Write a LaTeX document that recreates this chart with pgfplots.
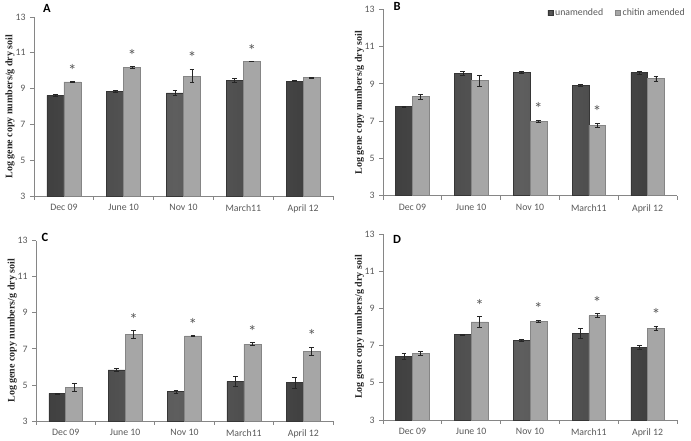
\documentclass[border=0pt]{standalone}
\usepackage{pgfplots}
\pgfplotsset{compat=1.18}
\usepackage{pgfplotstable}
\usepackage{fontspec}
\setmainfont{Carlito}
\newfontfamily\serfont{Liberation Serif}

\definecolor{axgray}{HTML}{868686}
\definecolor{txtgray}{HTML}{595959}
\definecolor{darkedge}{HTML}{404040}
\definecolor{darkmid}{HTML}{5E5E5E}
\definecolor{lightfill}{HTML}{A6A6A6}
\definecolor{lightline}{HTML}{858585}

% x  dark  derr  light  lerr
\pgfplotstableread{
x d de l le
0 8.62 0.07 9.38 0.03
1 8.86 0.07 10.19 0.05
2 8.76 0.14 9.70 0.37
3 9.48 0.12 10.52 0.02
4 9.41 0.03 9.61 0.02
}\dataA
\pgfplotstableread{
x d de l le
0 7.78 0.03 8.31 0.12
1 9.55 0.10 9.17 0.30
2 9.60 0.06 6.99 0.05
3 8.92 0.07 6.79 0.10
4 9.60 0.08 9.28 0.13
}\dataB
\pgfplotstableread{
x d de l le
0 4.53 0.03 4.87 0.24
1 5.84 0.09 7.80 0.22
2 4.63 0.08 7.72 0.03
3 5.20 0.30 7.27 0.08
4 5.14 0.30 6.88 0.22
}\dataC
\pgfplotstableread{
x d de l le
0 6.41 0.15 6.58 0.10
1 7.60 0.02 8.28 0.28
2 7.30 0.05 8.31 0.05
3 7.66 0.25 8.61 0.10
4 6.90 0.10 7.92 0.12
}\dataD
% asterisks (x, y)
\pgfplotstableread{
x y
0.1425 10.0
1.1425 10.83
2.1425 10.72
3.1425 11.13
}\astA
\pgfplotstableread{
x y
2.1425 7.68
3.1425 7.52
}\astB
\pgfplotstableread{
x y
1.1425 8.62
2.1425 8.37
3.1425 7.95
4.1425 7.72
}\astC
\pgfplotstableread{
x y
1.1425 9.17
2.1425 8.97
3.1425 9.32
4.1425 8.67
}\astD

\pgfplotsset{
  panel/.style={
    scale only axis,
    anchor=south west,
    ymin=3, ymax=13,
    xmin=-0.5, xmax=4.5,
    ytick={3,5,7,9,11,13},
    xtick={0,1,2,3,4},
    xticklabels={Dec 09,June 10,Nov 10,March11,April 12},
    minor xtick={-0.5,0.5,1.5,2.5,3.5,4.5},
    major x tick style={draw=none},
    axis x line*=bottom,
    axis y line*=left,
    axis line style={axgray, line width=0.8pt},
    tick style={axgray, line width=0.8pt},
    tick align=outside,
    major tick length=4pt,
    minor tick length=4pt,
    /pgf/number format/assume math mode=true,
    ticklabel style={font=\fontsize{9.8}{11}\selectfont, text=txtgray},
    yticklabel style={xshift=-1pt},
    xticklabel style={yshift=-1pt},
    ylabel={Log gene copy numbers/g dry soil},
    ylabel style={font=\serfont\bfseries\fontsize{10}{11}\selectfont, text=black!85, anchor=center, at={(axis description cs:-0.08,0.5)}},
    clip=false,
  },
  ebar/.style={error bars/.cd, y dir=both, y explicit,
    error mark options={rotate=90, mark size=2.4pt, black!85, line width=0.6pt},
    error bar style={black!85, line width=0.6pt}},
  darkbar/.style={ybar, bar width=0.285, bar shift=0pt, draw=darkedge!85!black, line width=0.4pt,
    left color=darkedge, right color=darkedge, middle color=darkmid, ebar},
  lightbar/.style={ybar, bar width=0.285, bar shift=0pt, draw=lightline, line width=0.5pt,
    fill=lightfill, ebar},
  aster/.style={draw=none, mark=none, nodes near coords={*},
    every node near coord/.style={anchor=center, inner sep=0pt, text=black!65, font=\fontsize{17}{17}\selectfont}},
}

\begin{document}
\begin{tikzpicture}
\path[use as bounding box] (0,0) rectangle (691pt,441pt);

% Panel A
\begin{axis}[panel, at={(34pt,245pt)}, width=299pt, height=179pt]
\addplot[darkbar] table[x expr=\thisrow{x}-0.1425, y=d, y error=de] {\dataA};
\addplot[lightbar] table[x expr=\thisrow{x}+0.1425, y=l, y error=le] {\dataA};
\addplot[aster] table[x=x, y=y] {\astA};
\end{axis}

% Panel B
\begin{axis}[panel, at={(383pt,245.3pt)}, width=294pt, height=186.4pt,
  legend style={at={(axis description cs:1.044,0.982)}, anchor=east, draw=none, fill=none,
    font=\fontsize{9.8}{11}\selectfont, text=txtgray, legend columns=2,
    /tikz/every even column/.append style={column sep=10pt}},
  legend image code/.code={\draw[#1] (0pt,-2.5pt) rectangle (5pt,2.5pt);},
  legend cell align=left]
\addplot[darkbar] table[x expr=\thisrow{x}-0.1425, y=d, y error=de] {\dataB};
\addlegendentry{unamended}
\addplot[lightbar] table[x expr=\thisrow{x}+0.1425, y=l, y error=le] {\dataB};
\addlegendentry{chitin amended}
\addplot[aster, forget plot] table[x=x, y=y] {\astB};
\end{axis}

% Panel C
\begin{axis}[panel, at={(36pt,20pt)}, width=297pt, height=180.3pt]
\addplot[darkbar] table[x expr=\thisrow{x}-0.1425, y=d, y error=de] {\dataC};
\addplot[lightbar] table[x expr=\thisrow{x}+0.1425, y=l, y error=le] {\dataC};
\addplot[aster] table[x=x, y=y] {\astC};
\end{axis}

% Panel D
\begin{axis}[panel, at={(383pt,21pt)}, width=294pt, height=186pt]
\addplot[darkbar] table[x expr=\thisrow{x}-0.1425, y=d, y error=de] {\dataD};
\addplot[lightbar] table[x expr=\thisrow{x}+0.1425, y=l, y error=le] {\dataD};
\addplot[aster] table[x=x, y=y] {\astD};
\end{axis}

\node[font=\bfseries\fontsize{12.5}{13}\selectfont] at (47pt,433pt) {A};
\node[font=\bfseries\fontsize{12.5}{13}\selectfont] at (397pt,435pt) {B};
\node[font=\bfseries\fontsize{12.5}{13}\selectfont] at (45pt,203.5pt) {C};
\node[font=\bfseries\fontsize{12.5}{13}\selectfont] at (397pt,202pt) {D};
\end{tikzpicture}
\end{document}
